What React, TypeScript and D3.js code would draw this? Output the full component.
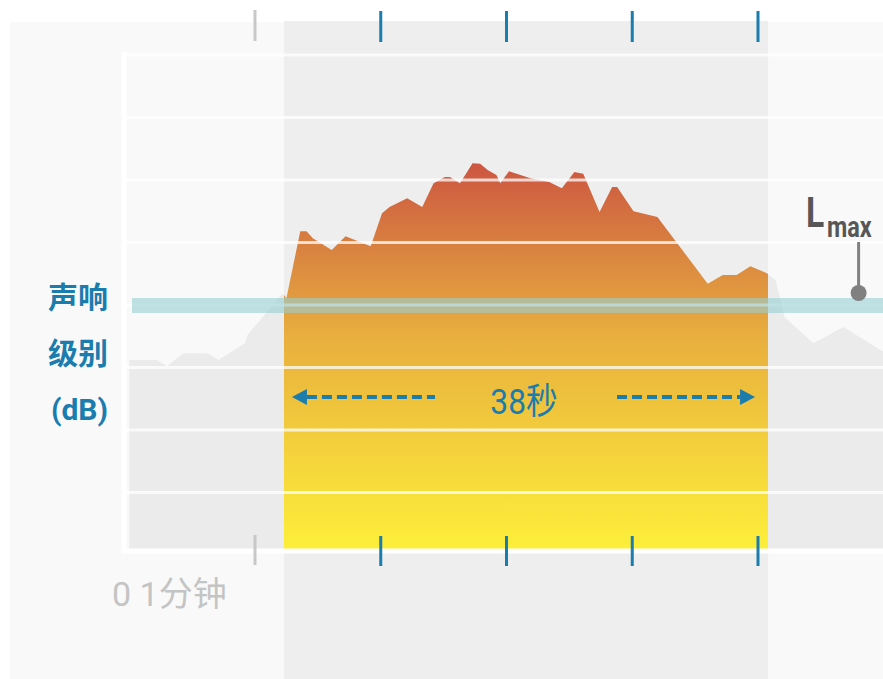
import React, { useEffect, useRef } from 'react';
import * as d3 from 'd3';

// sound level trace: seconds from start vs level in dB
const seconds = [
  0, 2.2, 3.0, 4.3, 6.2, 7.1, 9.2, 9.4, 12.2, 12.5, 13.6, 14.1, 14.6, 16.1, 17.2, 18.2, 19.2,
  20.1, 20.7, 22.1, 23.3, 24.2, 25.1, 25.5, 26.3, 27.3, 27.9, 28.5, 29.2, 29.5, 30.2, 31.9,
  33.4, 34.4, 35.4, 36.1, 37.4, 38.4, 38.8, 40.1, 42.0, 46.0, 47.2, 48.3, 49.4, 50.7, 51.4,
  52.1, 54.4, 56.8, 60.0,
];
const levels = [
  61.2, 61.2, 60.2, 62.3, 62.3, 61.2, 63.9, 65.2, 71.9, 71.1, 81.8, 81.8, 80.7, 78.8, 81.0, 80.2, 79.4,
  84.7, 85.7, 87.1, 85.7, 89.5, 90.5, 90.5, 89.5, 92.7, 92.6, 91.6, 90.8, 89.5, 91.4, 90.3,
  89.7, 88.7, 91.3, 91.0, 84.9, 88.9, 88.9, 85.0, 84.1, 73.4, 74.8, 74.8, 76.2, 75.1, 74.0,
  68.1, 63.9, 66.5, 62.5,
];

const gridLevels = [40, 50, 60, 70, 80, 90, 100, 110];
const tickSeconds = [10, 20, 30, 40, 50];
const eventWindow = [12.3, 50.8];
const lmaxLevel = 70;
const lmaxAt = 58;

const levelLabel = ['声响', '级别', '(dB)'];
const durationLabel = '38秒';
const timeLabel = '0 1分钟';

const W = 883;
const H = 679;
const BLUE = '#1b7cae';
const FONT = "Roboto, 'Noto Sans CJK SC', sans-serif";

const App: React.FC = () => {
  const svgRef = useRef<SVGSVGElement | null>(null);

  useEffect(() => {
    if (!svgRef.current) return;
    const svg = d3.select(svgRef.current);
    svg.selectAll('*').remove();

    const plot = { left: 122, right: 883, top: 52, bottom: 550 };

    const x = d3.scaleLinear().domain([0, 60]).range([129.25, 883.75]);
    const y = d3.scaleLinear().domain([30, 110]).range([555, 55]);

    const data = seconds.map((s, i) => ({ s, db: levels[i] }));
    const wx0 = x(eventWindow[0]);
    const wx1 = x(eventWindow[1]);

    const defs = svg.append('defs');
    const grad = defs.append('linearGradient')
      .attr('id', 'heat')
      .attr('gradientUnits', 'userSpaceOnUse')
      .attr('x1', 0).attr('x2', 0)
      .attr('y1', 160).attr('y2', plot.bottom);
    [
      [0, '#cc5440'],
      [0.256, '#db8840'],
      [0.449, '#e8ae3e'],
      [0.69, '#f2cb3c'],
      [1, '#fdef3a'],
    ].forEach(([o, c]) => grad.append('stop').attr('offset', o as number).attr('stop-color', c as string));

    defs.append('clipPath').attr('id', 'plotClip')
      .append('rect')
      .attr('x', plot.left + 4).attr('y', plot.top)
      .attr('width', plot.right - plot.left - 4).attr('height', plot.bottom - plot.top);
    defs.append('clipPath').attr('id', 'winClip')
      .append('rect')
      .attr('x', wx0).attr('y', plot.top)
      .attr('width', wx1 - wx0).attr('height', plot.bottom - plot.top);

    // panel + highlighted event band
    svg.append('rect').attr('x', 10).attr('y', 22).attr('width', W - 10).attr('height', H - 22).attr('fill', '#f9f9f9');
    svg.append('rect').attr('x', wx0).attr('y', 21).attr('width', wx1 - wx0).attr('height', H - 21).attr('fill', '#eeeeee');

    const area = d3.area<{ s: number; db: number }>()
      .x(d => x(d.s))
      .y0(plot.bottom)
      .y1(d => y(d.db));

    // whole trace in gray, event part in colour
    svg.append('path').datum(data)
      .attr('clip-path', 'url(#plotClip)')
      .attr('d', area)
      .attr('fill', '#ebebeb');
    svg.append('path').datum(data)
      .attr('clip-path', 'url(#winClip)')
      .attr('d', area)
      .attr('fill', 'url(#heat)');

    // grid and frame
    svg.append('g').selectAll('line')
      .data(gridLevels)
      .enter()
      .append('line')
      .attr('x1', plot.left).attr('x2', plot.right)
      .attr('y1', d => y(d)).attr('y2', d => y(d))
      .attr('stroke', '#ffffff')
      .attr('stroke-opacity', 0.75)
      .attr('stroke-width', 3);
    svg.append('line')
      .attr('x1', plot.left).attr('x2', plot.right)
      .attr('y1', plot.bottom + 1).attr('y2', plot.bottom + 1)
      .attr('stroke', '#ffffff').attr('stroke-width', 5);
    svg.append('line')
      .attr('x1', plot.left + 2).attr('x2', plot.left + 2)
      .attr('y1', plot.top).attr('y2', plot.bottom + 3)
      .attr('stroke', '#ffffff').attr('stroke-width', 5);

    // Lmax band
    svg.append('rect')
      .attr('x', 132).attr('y', y(lmaxLevel) - 7)
      .attr('width', plot.right - 132).attr('height', 15)
      .attr('fill', 'rgb(151,207,211)')
      .attr('fill-opacity', 0.6);

    // ticks top and bottom
    const tickColor = (d: number) => (d >= eventWindow[0] && d <= eventWindow[1] ? BLUE : '#c8c8c8');
    [[10, 41], [535, 565]].forEach(([a, b]) => {
      svg.append('g').selectAll('line')
        .data(tickSeconds)
        .enter()
        .append('line')
        .attr('x1', d => x(d)).attr('x2', d => x(d))
        .attr('y1', d => (tickColor(d) === BLUE ? a + 1 : a)).attr('y2', d => (tickColor(d) === BLUE ? b + 1 : b))
        .attr('stroke', tickColor)
        .attr('stroke-width', 3);
    });

    svg.append('text')
      .attr('x', 112).attr('y', 606)
      .attr('font-family', FONT).attr('font-size', 34)
      .attr('fill', '#c4c4c4')
      .text(timeLabel);

    // axis title on the left
    const ly = [308, 364, 420];
    svg.append('g').selectAll('text')
      .data(levelLabel)
      .enter()
      .append('text')
      .attr('x', 108).attr('y', (_, i) => ly[i])
      .attr('text-anchor', 'end')
      .attr('font-family', FONT).attr('font-size', 30)
      .attr('font-weight', 'bold')
      .attr('fill', BLUE)
      .text(d => d);

    // duration arrows
    const ay = 397;
    const arrow = svg.append('g');
    arrow.append('line')
      .attr('x1', wx0 + 23).attr('x2', 435).attr('y1', ay).attr('y2', ay)
      .attr('stroke', BLUE).attr('stroke-width', 4).attr('stroke-dasharray', '10 5');
    arrow.append('line')
      .attr('x1', 617).attr('x2', wx1 - 28).attr('y1', ay).attr('y2', ay)
      .attr('stroke', BLUE).attr('stroke-width', 4).attr('stroke-dasharray', '10 5');
    arrow.append('path')
      .attr('d', `M${wx0 + 8},${ay} L${wx0 + 23},${ay - 8} L${wx0 + 23},${ay + 8} Z`)
      .attr('fill', BLUE);
    arrow.append('path')
      .attr('d', `M${wx1 - 13},${ay} L${wx1 - 28},${ay - 8} L${wx1 - 28},${ay + 8} Z`)
      .attr('fill', BLUE);
    svg.append('g')
      .attr('transform', `translate(${(wx0 + wx1) / 2 - 2},414) scale(0.88,1)`)
      .append('text')
      .attr('text-anchor', 'middle')
      .attr('font-family', FONT).attr('font-size', 36)
      .attr('fill', BLUE)
      .text(durationLabel);

    // Lmax marker
    const mx = x(lmaxAt);
    svg.append('line')
      .attr('x1', mx).attr('x2', mx).attr('y1', 242).attr('y2', y(lmaxLevel) - 12)
      .attr('stroke', '#808080').attr('stroke-width', 3);
    svg.append('circle')
      .attr('cx', mx).attr('cy', y(lmaxLevel) - 12).attr('r', 8)
      .attr('fill', '#808080');
    svg.append('g').attr('transform', 'translate(806,227) scale(0.8,1)')
      .append('text')
      .attr('font-family', FONT).attr('font-size', 42).attr('font-weight', 'bold')
      .attr('fill', '#575757')
      .text('L');
    svg.append('g').attr('transform', 'translate(827,237) scale(0.78,1)')
      .append('text')
      .attr('font-family', FONT).attr('font-size', 30).attr('font-weight', 'bold')
      .attr('fill', '#575757')
      .text('max');
  }, []);

  return (
    <div style={{ position: 'absolute', left: 0, top: 0, width: W, height: H }}>
      <svg ref={svgRef} width={W} height={H} style={{ display: 'block', background: '#ffffff' }} />
    </div>
  );
};

export default App;
